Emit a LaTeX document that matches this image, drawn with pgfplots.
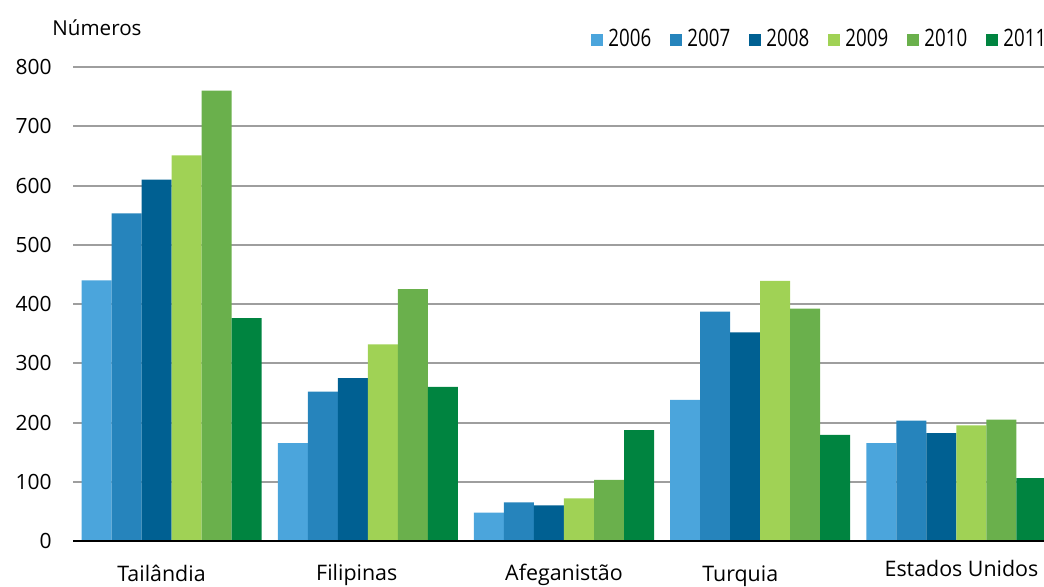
\documentclass[border=0pt]{standalone}
\usepackage{pgfplots}
\pgfplotsset{compat=1.18}
\usepackage{fontspec}
\setmainfont{Open Sans}
\newfontfamily\legfont[FakeStretch=0.78]{Open Sans}
\definecolor{cA}{RGB}{75,165,220}
\definecolor{cB}{RGB}{38,132,188}
\definecolor{cC}{RGB}{0,96,146}
\definecolor{cD}{RGB}{160,210,85}
\definecolor{cE}{RGB}{106,176,76}
\definecolor{cF}{RGB}{0,132,64}
\begin{document}
\begin{tikzpicture}
\useasboundingbox (0,0) rectangle (522pt,293pt);
\node[anchor=west, inner sep=0pt, font=\fontsize{10.3}{12}\selectfont] at (26pt,279pt) {Números};
\begin{axis}[
  at={(36.5pt,22.5pt)}, anchor=south west,
  scale only axis, width=485.5pt, height=237pt,
  xmin=-0.502, xmax=4.446, ymin=0, ymax=800,
  ybar=0pt, bar width=15pt,
  axis line style={draw=none},
  tick style={draw=none},
  major tick length=0pt,
  xtick={0,1,2,3,4},
  xticklabels={{\hspace*{-10pt}\raisebox{-0.5pt}{Tailândia}},
               {\hspace*{-11pt}\raisebox{0pt}{Filipinas}},
               {Afeganistão},
               {\hspace*{-20pt}\raisebox{-0.5pt}{Turquia}},
               {\hspace*{5pt}\raisebox{2pt}{Estados Unidos}}},
  ytick={0,100,...,800},
  ymajorgrids, grid style={line width=1pt, color=black!38},
  /pgf/number format/assume math mode=true,
  tick label style={font=\fontsize{10.5}{12}\selectfont},
  yticklabel style={anchor=east, inner sep=0pt, xshift=-10.5pt},
  xticklabel style={anchor=base, inner sep=0pt, yshift=-19.5pt, font=\fontsize{10.7}{12}\selectfont},
  legend columns=6,
  legend style={draw=none, fill=none, inner sep=0pt, at={(0,1)}, anchor=west,
    xshift=259pt, yshift=13.75pt, font=\legfont\fontsize{12}{14}\selectfont,
    /tikz/every even column/.append style={column sep=9.6pt},
    /tikz/every odd column/.append style={column sep=2.5pt},
    nodes={inner sep=0pt}},
  legend image code/.code={\fill[#1] (0pt,-3pt) rectangle (6pt,3pt);},
]
\addplot[fill=cA, draw=none] coordinates {(0,440) (1,165) (2,48) (3,238) (4,165)};
\addplot[fill=cB, draw=none] coordinates {(0,553) (1,252) (2,65) (3,387) (4,203)};
\addplot[fill=cC, draw=none] coordinates {(0,610) (1,275) (2,60) (3,352) (4,182)};
\addplot[fill=cD, draw=none] coordinates {(0,651) (1,332) (2,72) (3,439) (4,195)};
\addplot[fill=cE, draw=none] coordinates {(0,760) (1,425) (2,103) (3,392) (4,205)};
\addplot[fill=cF, draw=none] coordinates {(0,376) (1,260) (2,187) (3,179) (4,106)};
\legend{2006,2007,2008,2009,2010,2011}
\draw[black, line width=1.2pt] (rel axis cs:0,0) -- (rel axis cs:1,0);
\end{axis}
\end{tikzpicture}
\end{document}
